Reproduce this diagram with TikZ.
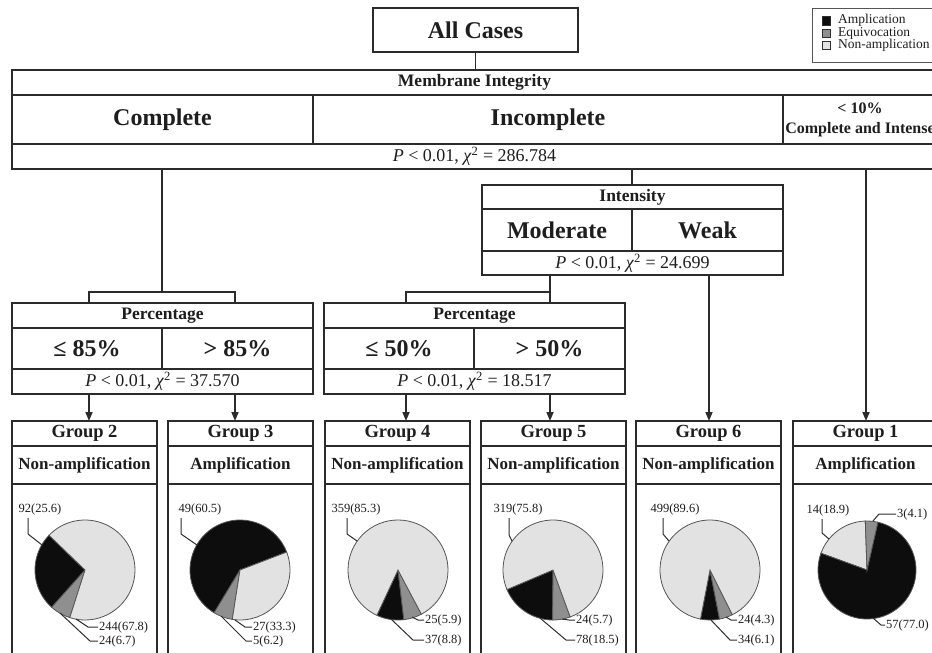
\documentclass[tikz,border=0pt]{standalone}
\usepackage{fontspec}
\setmainfont{Liberation Serif}
\usetikzlibrary{arrows.meta,calc}
\definecolor{linec}{HTML}{2B2B2B}
\definecolor{txt}{HTML}{1E1E1E}
\definecolor{leadc}{HTML}{2E2E2E}
\definecolor{pied}{HTML}{555555}
\definecolor{pblack}{HTML}{0D0D0D}
\definecolor{pgray}{HTML}{8F8F8F}
\definecolor{plight}{HTML}{E2E2E2}
\newcommand\pwedge[5]{\begin{scope}[shift={(#1)},yscale=-1]\filldraw[slice,fill=#5] (0,0) -- (#3:#2) arc[start angle=#3,end angle=#4,radius=#2] -- cycle;\end{scope}}
\begin{document}
\begin{tikzpicture}[x=1pt,y=-1pt,
  cell/.style={draw=linec, line width=1.6pt, inner sep=0pt, outer sep=0pt, anchor=north west, text=txt, align=center},
  big/.style={font=\fontsize{24}{26}\selectfont\bfseries},
  head/.style={font=\fontsize{17.5}{19}\selectfont\bfseries},
  stat/.style={font=\fontsize{18}{20}\selectfont},
  gtitle/.style={font=\fontsize{18.5}{20}\selectfont\bfseries},
  glabel/.style={font=\fontsize{17}{19}\selectfont\bfseries},
  conn/.style={draw=linec, line width=1.6pt},
  arr/.style={conn, -{Triangle[length=9pt,width=7pt]}},
  lead/.style={draw=leadc, line width=1pt},
  plabel/.style={font=\fontsize{12.5}{14}\selectfont, text=txt, inner sep=1pt},
  slice/.style={draw=pied, line width=0.8pt},
  legtext/.style={font=\fontsize{13.5}{14}\selectfont, text=txt, inner sep=0pt, anchor=west},
]
\useasboundingbox (0,0) rectangle (932,653);
\clip (0,0) rectangle (932,653);
\fill[white] (0,0) rectangle (932,653);

% legend
\draw[draw=pied, line width=1pt] (812,8) rectangle (945,62);
\filldraw[draw=leadc, line width=0.5pt, fill=pblack] (822,16) rectangle (830,25);
\filldraw[draw=leadc, line width=0.5pt, fill=pgray] (822,29) rectangle (830,37);
\filldraw[draw=leadc, line width=0.5pt, fill=plight] (822,41) rectangle (830,49);
\node[legtext] (lg1) at (838,20) {Amplication};
\node[legtext] (lg2) at (838,33) {Equivocation};
\node[legtext] (lg3) at (838,45) {Non-amplication};

% All cases
\node[cell, big, minimum width=205pt, minimum height=44pt] (all) at (373,8) {All Cases};

% Membrane integrity table
\node[cell, head, minimum width=925pt, minimum height=25pt] (mi) at (12,70) {Membrane Integrity};
\node[cell, big, minimum width=301pt, minimum height=49pt] (mc) at (12,95) {Complete};
\node[cell, big, minimum width=470pt, minimum height=49pt] (mn) at (313,95) {Incomplete};
\node[cell, font=\fontsize{16}{20}\selectfont\bfseries, minimum width=154pt, minimum height=49pt] (mt) at (783,95) {< 10\%\\Complete and Intense};
\node[cell, stat, minimum width=925pt, minimum height=25pt] (mp) at (12,144) {\textit{P} < 0.01,\ \textit{χ}\textsuperscript{2} = 286.784};

% Intensity table
\node[cell, head, minimum width=301pt, minimum height=24pt] (ih) at (482,185) {Intensity};
\node[cell, big, minimum width=150pt, minimum height=42pt] (imod) at (482,209) {Moderate};
\node[cell, big, minimum width=151pt, minimum height=42pt] (iweak) at (632,209) {Weak};
\node[cell, stat, minimum width=301pt, minimum height=24pt] (ip) at (482,251) {\textit{P} < 0.01,\ \textit{χ}\textsuperscript{2} = 24.699};

% Percentage table 1
\node[cell, head, minimum width=301pt, minimum height=25pt] (p1h) at (12,303) {Percentage};
\node[cell, big, minimum width=150pt, minimum height=41pt] (p1a) at (12,328) {≤ 85\%};
\node[cell, big, minimum width=151pt, minimum height=41pt] (p1b) at (162,328) {> 85\%};
\node[cell, stat, minimum width=301pt, minimum height=25pt] (p1p) at (12,369) {\textit{P} < 0.01,\ \textit{χ}\textsuperscript{2} = 37.570};

% Percentage table 2
\node[cell, head, minimum width=301pt, minimum height=25pt] (p2h) at (324,303) {Percentage};
\node[cell, big, minimum width=150pt, minimum height=41pt] (p2a) at (324,328) {≤ 50\%};
\node[cell, big, minimum width=151pt, minimum height=41pt] (p2b) at (474,328) {> 50\%};
\node[cell, stat, minimum width=301pt, minimum height=25pt] (p2p) at (324,369) {\textit{P} < 0.01,\ \textit{χ}\textsuperscript{2} = 18.517};

% Group boxes
\foreach \n/\x/\g/\lab in {2/12/2/Non-amplification, 3/168/3/Amplification, 4/325/4/Non-amplification, 5/481/5/Non-amplification, 6/636/6/Non-amplification, 1/793/1/Amplification}{
  \node[cell, gtitle, minimum width=145pt, minimum height=25pt] (g\n h) at (\x,421) {Group \g};
  \node[cell, glabel, minimum width=145pt, minimum height=38pt] (g\n l) at (\x,446) {\lab};
  \node[cell, minimum width=145pt, minimum height=180pt] (g\n b) at (\x,484) {};
}

% connectors
\coordinate (b1) at (162,292);
\coordinate (b1l) at (89,292);
\coordinate (b1r) at (235,292);
\coordinate (xi) at (632,180);
\coordinate (b2) at (550,292);
\coordinate (b2l) at (406,292);
\coordinate (x6) at (709,292);
\coordinate (x1) at (866,292);
\draw[conn] (all.south) -- (all.south |- mi.north);
\draw[conn] (b1 |- mp.south) -- (b1);
\draw[conn] (b1l |- p1h.north) -- (b1l) -- (b1r) -- (b1r |- p1h.north);
\draw[conn] (xi |- mp.south) -- (xi |- ih.north);
\draw[conn] (b2 |- ip.south) -- (b2) -- (b2 |- p2h.north);
\draw[conn] (b2) -- (b2l) -- (b2l |- p2h.north);
\draw[arr] (b1l |- p1p.south) -- (b1l |- g2h.north);
\draw[arr] (b1r |- p1p.south) -- (b1r |- g3h.north);
\draw[arr] (b2l |- p2p.south) -- (b2l |- g4h.north);
\draw[arr] (b2 |- p2p.south) -- (b2 |- g5h.north);
\draw[arr] (x6 |- ip.south) -- (x6 |- g6h.north);
\draw[arr] (x1 |- mp.south) -- (x1 |- g1h.north);

% pies
% Group 2
\pwedge{85,570}{50}{136}{228.2}{pblack}
\pwedge{85,570}{50}{228.2}{252.3}{pgray}
\pwedge{85,570}{50}{252.3}{496}{plight}
% Group 3
\pwedge{240,570}{50}{21}{238.8}{pblack}
\pwedge{240,570}{50}{238.8}{261.1}{pgray}
\pwedge{240,570}{50}{261.1}{381}{plight}
% Group 4
\pwedge{398,570}{50}{245}{276.7}{pblack}
\pwedge{398,570}{50}{276.7}{297.9}{pgray}
\pwedge{398,570}{50}{297.9}{605}{plight}
% Group 5
\pwedge{553,570}{50}{203}{269.6}{pblack}
\pwedge{553,570}{50}{269.6}{290.1}{pgray}
\pwedge{553,570}{50}{290.1}{563}{plight}
% Group 6
\pwedge{710,570}{50}{259}{281}{pblack}
\pwedge{710,570}{50}{281}{296.5}{pgray}
\pwedge{710,570}{50}{296.5}{619}{plight}
% Group 1
\pwedge{867,570}{49}{92}{160}{plight}
\pwedge{867,570}{49}{160}{437.2}{pblack}
\pwedge{867,570}{49}{77.2}{92}{pgray}

% pie labels and leaders
% Group 2
\node[plabel] (l2a) at (40,509) {92(25.6)};
\node[plabel, anchor=west] (l2b) at (98,627) {244(67.8)};
\node[plabel, anchor=west] (l2c) at (98,641) {24(6.7)};
\coordinate (e2a) at (42,545); \coordinate (e2b) at (76,619); \coordinate (e2c) at (60,613);
\draw[lead] (e2a) -- (28,534) -- (28,518);
\draw[lead] (e2b) -- (88,627) -- (l2b.west);
\draw[lead] (e2c) -- (90,641) -- (l2c.west);
% Group 3
\node[plabel] (l3a) at (200,509) {49(60.5)};
\node[plabel, anchor=west] (l3b) at (252,627) {27(33.3)};
\node[plabel, anchor=west] (l3c) at (252,641) {5(6.2)};
\coordinate (e3a) at (197,545); \coordinate (e3b) at (235,620); \coordinate (e3c) at (221,616);
\draw[lead] (e3a) -- (181,534) -- (181,518);
\draw[lead] (e3b) -- (245,627) -- (l3b.west);
\draw[lead] (e3c) -- (246,641) -- (l3c.west);
% Group 4
\node[plabel] (l4a) at (356,509) {359(85.3)};
\node[plabel, anchor=west] (l4b) at (424,620) {25(5.9)};
\node[plabel, anchor=west] (l4c) at (424,640) {37(8.8)};
\coordinate (e4a) at (357,541); \coordinate (e4b) at (412,617); \coordinate (e4c) at (391,619);
\draw[lead] (e4a) -- (347,534) -- (347,518);
\draw[lead] (e4b) -- (418,620) -- (l4b.west);
\draw[lead] (e4c) -- (413,640) -- (l4c.west);
% Group 5
\node[plabel] (l5a) at (518,509) {319(75.8)};
\node[plabel, anchor=west] (l5b) at (575,620) {24(5.7)};
\node[plabel, anchor=west] (l5c) at (575,640) {78(18.5)};
\coordinate (e5a) at (512,541); \coordinate (e5b) at (562,619); \coordinate (e5c) at (540,618);
\draw[lead] (e5a) -- (509,535) -- (509,518);
\draw[lead] (e5b) -- (569,620) -- (l5b.west);
\draw[lead] (e5c) -- (566,640) -- (l5c.west);
% Group 6
\node[plabel] (l6a) at (675,509) {499(89.6)};
\node[plabel, anchor=west] (l6b) at (737,620) {24(4.3)};
\node[plabel, anchor=west] (l6c) at (737,640) {34(6.1)};
\coordinate (e6a) at (669,541); \coordinate (e6b) at (726,617); \coordinate (e6c) at (711,620);
\draw[lead] (e6a) -- (663,534) -- (663,518);
\draw[lead] (e6b) -- (731,620) -- (l6b.west);
\draw[lead] (e6c) -- (730,640) -- (l6c.west);
% Group 1
\node[plabel] (l1a) at (828,510) {14(18.9)};
\node[plabel, anchor=west] (l1b) at (896,514) {3(4.1)};
\node[plabel, anchor=west] (l1c) at (885,625) {57(77.0)};
\coordinate (e1a) at (829,539); \coordinate (e1b) at (873,521); \coordinate (e1c) at (873,618);
\draw[lead] (e1a) -- (822,533) -- (822,519);
\draw[lead] (e1b) -- (879,514) -- (l1b.west);
\draw[lead] (e1c) -- (881,625) -- (l1c.west);
\end{tikzpicture}
\end{document}
